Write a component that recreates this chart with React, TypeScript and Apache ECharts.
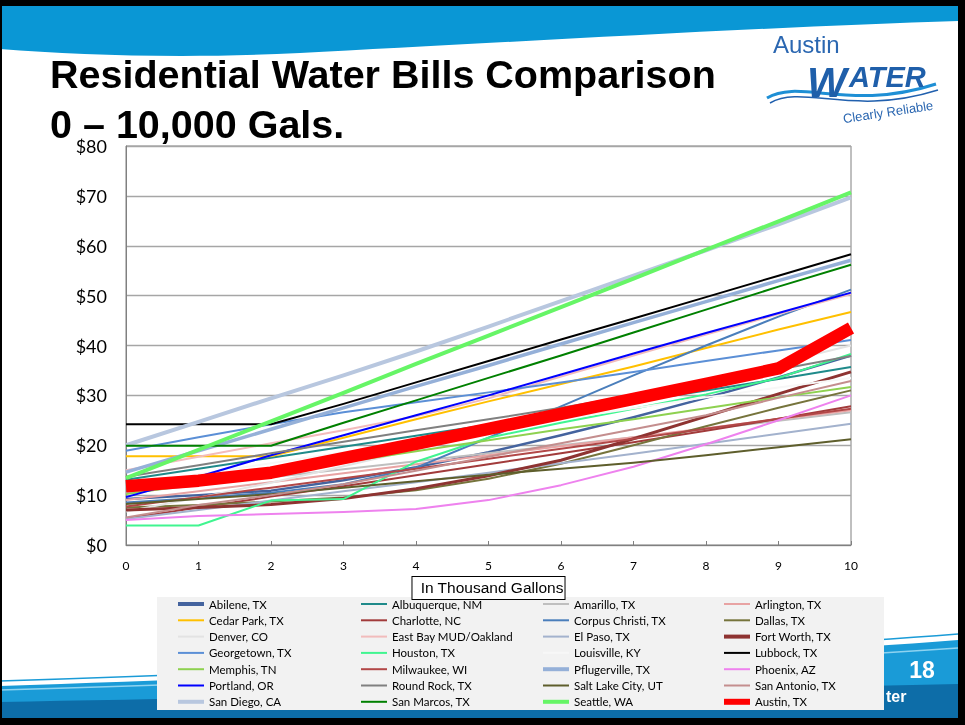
import React, { useEffect, useRef } from "react";
import * as echarts from "echarts";

// ---------- DATA ----------
const gallonsThousands = [0, 1, 2, 3, 4, 5, 6, 7, 8, 9, 10];

const cityNames = [
  "Abilene, TX", "Albuquerque, NM", "Amarillo, TX", "Arlington, TX",
  "Cedar Park, TX", "Charlotte, NC", "Corpus Christi, TX", "Dallas, TX",
  "Denver, CO", "East Bay MUD/Oakland", "El Paso, TX", "Fort Worth, TX",
  "Georgetown, TX", "Houston, TX", "Louisville, KY", "Lubbock, TX",
  "Memphis, TN", "Milwaukee, WI", "Pflugerville, TX", "Phoenix, AZ",
  "Portland, OR", "Round Rock, TX", "Salt Lake City, UT", "San Antonio, TX",
  "San Diego, CA", "San Marcos, TX", "Seattle, WA", "Austin, TX",
];

const abilene = [9.2, 10.0, 10.9, 13.0, 15.6, 18.6, 22.0, 25.6, 29.5, 33.6, 38.0];
const albuquerque = [13.1, 15.3, 17.5, 19.7, 21.9, 24.1, 26.4, 28.7, 31.0, 33.3, 35.7];
const amarillo = [10.4, 12.0, 13.6, 15.2, 16.8, 18.4, 20.0, 21.6, 23.2, 24.9, 26.6];
const arlington = [9.0, 10.8, 12.6, 14.4, 16.2, 18.0, 19.8, 21.6, 23.4, 25.2, 27.0];
const cedarPark = [17.8, 17.8, 17.8, 21.5, 25.2, 28.8, 32.3, 35.8, 39.5, 43.2, 46.7];
const charlotte = [5.3, 7.5, 9.7, 11.8, 14.0, 16.2, 18.4, 20.6, 22.9, 25.3, 27.8];
const corpusChristi = [8.5, 9.4, 10.5, 12.2, 15.5, 21.5, 27.8, 34.0, 40.0, 45.8, 51.2];
const dallas = [7.5, 8.0, 8.7, 9.5, 11.0, 13.3, 16.3, 20.0, 23.8, 27.5, 31.0];
const denver = [6.7, 9.5, 12.5, 15.8, 19.2, 22.6, 26.0, 29.5, 33.0, 36.5, 40.0];
const eastBay = [15.0, 17.7, 20.4, 23.0, 25.8, 29.4, 33.8, 38.0, 42.2, 46.3, 50.3];
const elPaso = [5.2, 7.0, 8.9, 10.8, 12.6, 14.5, 16.4, 18.3, 20.3, 22.3, 24.3];
const fortWorth = [7.0, 7.5, 8.1, 9.3, 11.3, 13.9, 17.0, 21.3, 25.8, 30.3, 34.7];
const georgetown = [18.9, 21.6, 24.2, 26.6, 28.6, 30.6, 32.6, 34.7, 36.9, 39.0, 41.1];
const houston = [3.9, 3.9, 8.9, 9.2, 16.7, 21.5, 24.5, 27.3, 30.2, 33.5, 38.3];
const louisville = [12.0, 14.2, 16.4, 18.6, 20.8, 23.0, 25.2, 27.4, 29.6, 31.6, 33.5];
const lubbock = [24.2, 24.2, 24.2, 28.3, 32.6, 36.9, 41.2, 45.4, 49.7, 54.0, 58.3];
const memphis = [10.2, 12.3, 14.5, 16.6, 18.8, 21.0, 23.2, 25.2, 27.4, 29.6, 31.7];
const milwaukee = [7.7, 9.6, 11.5, 13.4, 15.3, 17.3, 19.3, 21.3, 23.3, 25.3, 27.3];
const pflugerville = [14.6, 18.9, 23.2, 27.5, 31.8, 36.0, 40.3, 44.6, 48.8, 53.0, 57.1];
const phoenix = [5.0, 5.8, 6.2, 6.6, 7.2, 9.0, 12.0, 15.7, 20.2, 25.0, 30.0];
const portland = [9.6, 13.7, 18.0, 22.0, 26.0, 30.0, 34.2, 38.4, 42.5, 46.5, 50.6];
const roundRock = [13.7, 16.0, 18.4, 20.7, 23.0, 25.2, 27.5, 30.0, 32.6, 35.2, 37.9];
const saltLakeCity = [8.2, 9.2, 10.2, 11.5, 12.8, 14.1, 15.3, 16.5, 18.0, 19.6, 21.2];
const sanAntonio = [5.5, 8.0, 10.0, 12.2, 14.9, 17.7, 20.4, 23.2, 26.0, 29.5, 32.9];
const sanDiego = [20.0, 24.7, 29.4, 34.0, 38.8, 43.8, 48.9, 54.0, 59.1, 64.3, 69.7];
const sanMarcos = [19.9, 19.9, 19.9, 24.5, 29.0, 33.5, 38.0, 42.6, 47.2, 51.8, 56.2];
const seattle = [13.4, 19.1, 24.8, 30.5, 36.3, 42.0, 47.7, 53.4, 59.2, 64.9, 70.7];
const austin = [11.8, 12.9, 14.5, 17.4, 20.3, 23.3, 26.3, 29.3, 32.3, 35.4, 43.5];

const cityValues = [
  abilene, albuquerque, amarillo, arlington,
  cedarPark, charlotte, corpusChristi, dallas,
  denver, eastBay, elPaso, fortWorth,
  georgetown, houston, louisville, lubbock,
  memphis, milwaukee, pflugerville, phoenix,
  portland, roundRock, saltLakeCity, sanAntonio,
  sanDiego, sanMarcos, seattle, austin,
];

// ---------- STYLES ----------
const lineColors = [
  "#44639E", "#1F8A8A", "#BFBFBF", "#E8A3A3",
  "#FFC000", "#A23B3B", "#4A7EBB", "#76743C",
  "#E3E3E3", "#F2BCBC", "#A3B2CD", "#8E3331",
  "#5B8FD6", "#40F590", "#F7F7F7", "#000000",
  "#8ED150", "#B24747", "#95B0D8", "#EE82EE",
  "#0000FF", "#808080", "#5E5E2C", "#C48E8E",
  "#B8C7DF", "#008000", "#66F566", "#FF0000",
];
const lineWidths = [
  2.5, 2, 2, 2,
  2, 2, 2, 2,
  2, 2, 2, 3,
  2, 2, 2, 2,
  2, 2, 3.5, 2,
  2, 2, 2, 2,
  4, 2, 4, 12.5,
];

const TOP_WAVE = "M0,6 L958,6 L958,21 C760,27 480,44 300,53 C180,59 80,55 0,49 Z";
const BOTTOM_WAVE = "M0,686 C300,676 700,660 958,640 L958,718 L0,718 Z";
const BOTTOM_DARK = "M0,702 C300,696 700,690 958,684 L958,718 L0,718 Z";
echarts.graphic.registerShape("topWave", echarts.graphic.extendPath(TOP_WAVE, {}));
echarts.graphic.registerShape("bottomWave", echarts.graphic.extendPath(BOTTOM_WAVE, {}));
echarts.graphic.registerShape("bottomDark", echarts.graphic.extendPath(BOTTOM_DARK, {}));

function legendIcon(w: number) {
  const h = w >= 10 ? 6 : w >= 2.5 ? 4 : 2;
  return `path://M0,0H26V${h}H0Z`;
}

export default function App() {
  const ref = useRef<HTMLDivElement>(null);

  useEffect(() => {
    if (!ref.current) return;
    const chart = echarts.init(ref.current, null, { renderer: "svg" });

    const series = cityNames.map((name, i) => ({
      name,
      type: "line",
      data: gallonsThousands.map((g, k) => [g, cityValues[i][k]]),
      symbol: "none",
      showSymbol: false,
      color: lineColors[i],
      lineStyle: { color: lineColors[i], width: lineWidths[i], join: "round", cap: "butt" },
      z: 2 + i * 0.01,
      silent: true,
    }));

    const legendLefts = [178, 361, 543, 724];
    const legends = legendLefts.map((left, c) => ({
      orient: "vertical",
      left,
      top: 598,
      padding: 0,
      itemWidth: 26,
      itemHeight: 6,
      itemGap: 4.3,
      selectedMode: false,
      symbolKeepAspect: true,
      itemStyle: { borderWidth: 0 },
      textStyle: { fontFamily: "Lato", fontSize: 11.5, color: "#000", lineHeight: 12 },
      data: cityNames
        .map((name, i) => ({ name, i }))
        .filter((d) => d.i % 4 === c)
        .map((d) => ({
          name: d.name,
          icon: legendIcon(lineWidths[d.i]),
          itemStyle: { color: lineColors[d.i], borderWidth: 0 },
        })),
    }));

    const graphic = [
      { type: "rect", shape: { x: 0, y: 0, width: 965, height: 725 }, style: { fill: "#fff" }, z: -10, silent: true },
      { type: "topWave", x: 0, y: 0, style: { fill: "#0A97D5" }, z: -5, silent: true },
      { type: "bottomWave", x: 0, y: 0, style: { fill: "#1A9BD7" }, z: -5, silent: true },
      { type: "bezierCurve", shape: { x1: 0, y1: 681, cpx1: 300, cpy1: 671, cpx2: 700, cpy2: 654, x2: 958, y2: 634 }, style: { stroke: "#1A9BD7", lineWidth: 1.5, fill: null }, z: -5, silent: true },
      { type: "bezierCurve", shape: { x1: 0, y1: 690, cpx1: 300, cpy1: 681, cpx2: 700, cpy2: 666, x2: 958, y2: 648 }, style: { stroke: "#8ED3F0", lineWidth: 1.5, fill: null }, z: -4, silent: true },
      { type: "bottomDark", x: 0, y: 0, style: { fill: "#0D6DA8" }, z: -4, silent: true },
      { type: "rect", shape: { x: 157, y: 597, width: 727, height: 113 }, style: { fill: "#F2F2F2" }, z: -3, silent: true },
      // title
      { type: "text", x: 50, y: 74, style: { text: "Residential Water Bills Comparison", fontFamily: "Liberation Sans", fontWeight: "bold", fontSize: 39.5, fill: "#000", align: "left", verticalAlign: "middle" }, z: 10, silent: true },
      { type: "text", x: 50, y: 124, style: { text: "0 \u2013 10,000 Gals.", fontFamily: "Liberation Sans", fontWeight: "bold", fontSize: 39.5, fill: "#000", align: "left", verticalAlign: "middle" }, z: 10, silent: true },
      // logo
      { type: "text", x: 773, y: 44, style: { text: "Austin", fontFamily: "Liberation Sans", fontSize: 24, fill: "#2B67B1", align: "left", verticalAlign: "middle" }, z: 10, silent: true },
      { type: "bezierCurve", shape: { x1: 767, y1: 98, cpx1: 800, cpy1: 78, cpx2: 850, cpy2: 112, x2: 936, y2: 84 }, style: { stroke: "#1E8FD5", lineWidth: 3, fill: null }, z: 10, silent: true },
      { type: "text", x: 807, y: 82, style: { text: "W", fontFamily: "Liberation Sans", fontWeight: "bold", fontStyle: "italic", fontSize: 42, fill: "#1F5FAA", align: "left", verticalAlign: "middle" }, z: 11, silent: true },
      { type: "text", x: 849, y: 77, style: { text: "ATER", fontFamily: "Liberation Sans", fontWeight: "bold", fontStyle: "italic", fontSize: 29, fill: "#1F5FAA", align: "left", verticalAlign: "middle" }, z: 11, silent: true },
      { type: "bezierCurve", shape: { x1: 770, y1: 103, cpx1: 803, cpy1: 84, cpx2: 852, cpy2: 117, x2: 938, y2: 90 }, style: { stroke: "#2160AE", lineWidth: 1.5, fill: null }, z: 12, silent: true },
      { type: "text", x: 888, y: 112, rotation: 0.15, style: { text: "Clearly Reliable", fontFamily: "Liberation Sans", fontSize: 13, fill: "#2B67B1", align: "center", verticalAlign: "middle" }, z: 10, silent: true },
      // footer texts
      { type: "text", x: 922, y: 670, style: { text: "18", fontFamily: "Liberation Sans", fontWeight: "bold", fontSize: 23, fill: "#fff", align: "center", verticalAlign: "middle" }, z: 10, silent: true },
      { type: "text", x: 886, y: 696, style: { text: "ter", fontFamily: "Liberation Sans", fontWeight: "bold", fontSize: 16, fill: "#fff", align: "left", verticalAlign: "middle" }, z: 10, silent: true },
      // frame
      { type: "rect", shape: { x: 0, y: 0, width: 965, height: 6 }, style: { fill: "#000" }, z: 50, silent: true },
      { type: "rect", shape: { x: 958, y: 0, width: 7, height: 725 }, style: { fill: "#000" }, z: 50, silent: true },
      { type: "rect", shape: { x: 0, y: 718, width: 965, height: 7 }, style: { fill: "#000" }, z: 50, silent: true },
      { type: "rect", shape: { x: 0, y: 0, width: 2, height: 725 }, style: { fill: "#000" }, z: 50, silent: true },
    ];

    chart.setOption({
      animation: false,
      backgroundColor: "transparent",
      grid: {
        left: 126, right: 114, top: 146, bottom: 180,
        show: true, borderColor: "#808080", borderWidth: 1,
        containLabel: false, outerBoundsMode: "none",
      },
      xAxis: {
        type: "value",
        min: 0, max: 10, interval: 1,
        name: "In Thousand Gallons",
        nameLocation: "middle",
        nameGap: 23,
        nameTextStyle: {
          fontFamily: "Liberation Sans", fontSize: 15.5, color: "#000",
          borderColor: "#000", borderWidth: 1, backgroundColor: "#fff",
          padding: [2, 1, 2, 8], lineHeight: 18,
        },
        axisLine: { show: true, lineStyle: { color: "#808080", width: 1 } },
        axisTick: { show: true, inside: true, length: 4, lineStyle: { color: "#808080" } },
        axisLabel: { fontFamily: "Lato", fontSize: 12, color: "#000", margin: 14 },
        splitLine: { show: false },
      },
      yAxis: {
        type: "value",
        min: 0, max: 80, interval: 10,
        axisLine: { show: true, lineStyle: { color: "#808080", width: 1 } },
        axisTick: { show: false },
        axisLabel: { fontFamily: "Lato", fontSize: 18, color: "#000", margin: 19, formatter: (v: number) => "$" + v },
        splitLine: { show: true, lineStyle: { color: "#A6A6A6", width: 1.3 } },
      },
      legend: legends,
      graphic,
      series,
    });

    return () => chart.dispose();
  }, []);

  return (
    <div
      ref={ref}
      style={{ position: "fixed", left: 0, top: 0, width: 965, height: 725 }}
    />
  );
}
